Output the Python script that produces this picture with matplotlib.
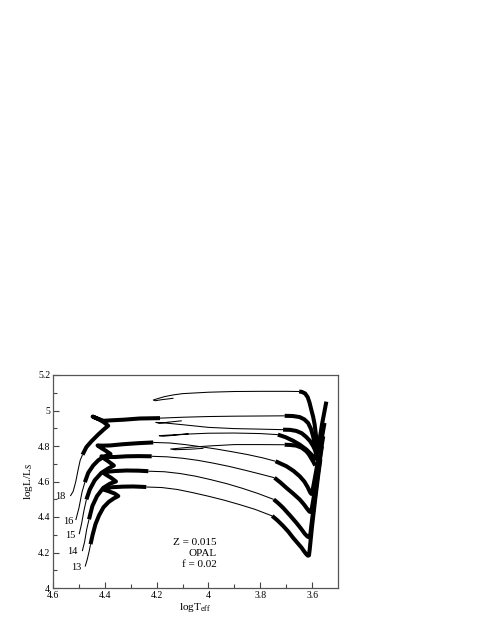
import matplotlib
matplotlib.use('Agg')
import matplotlib.pyplot as plt

# ---------------- data (logTeff, logL) ----------------
mass_labels = ['13', '14', '15', '16', '18']
label_T = [4.509, 4.526, 4.532, 4.541, 4.573]
label_L = [4.117, 4.205, 4.295, 4.374, 4.518]

# 13 Msun
T13_pre = [4.476, 4.468, 4.460, 4.455]
L13_pre = [4.121, 4.160, 4.210, 4.247]
T13_ms = [4.455, 4.447, 4.436, 4.422, 4.405, 4.385, 4.365, 4.348, 4.362, 4.385, 4.406, 4.396, 4.37, 4.33, 4.29, 4.24]
L13_ms = [4.247, 4.30, 4.36, 4.41, 4.455, 4.485, 4.505, 4.518, 4.532, 4.545, 4.555, 4.564, 4.568, 4.571, 4.572, 4.569]
T13_hg = [4.24, 4.18, 4.12, 4.06, 4.0, 3.94, 3.88, 3.82, 3.754]
L13_hg = [4.569, 4.566, 4.555, 4.537, 4.517, 4.495, 4.47, 4.443, 4.406]
T13_rg = [3.754, 3.733, 3.712, 3.692, 3.674, 3.657, 3.641, 3.630, 3.622, 3.616, 3.612, 3.609, 3.600, 3.588, 3.576, 3.568]
L13_rg = [4.406, 4.38, 4.35, 4.318, 4.284, 4.255, 4.228, 4.205, 4.19, 4.182, 4.184, 4.22, 4.35, 4.50, 4.64, 4.725]

# 14 Msun
T14_pre = [4.487, 4.478, 4.470, 4.461]
L14_pre = [4.208, 4.26, 4.33, 4.387]
T14_ms = [4.461, 4.448, 4.43, 4.406, 4.38, 4.357, 4.375, 4.395, 4.406, 4.39, 4.36, 4.316, 4.27, 4.232]
L14_ms = [4.387, 4.462, 4.518, 4.564, 4.588, 4.60, 4.62, 4.638, 4.649, 4.655, 4.659, 4.662, 4.661, 4.658]
T14_hg = [4.232, 4.17, 4.11, 4.05, 3.99, 3.93, 3.87, 3.81, 3.748]
L14_hg = [4.658, 4.655, 4.645, 4.63, 4.61, 4.588, 4.562, 4.533, 4.499]
T14_rg = [3.748, 3.730, 3.712, 3.686, 3.661, 3.643, 3.628, 3.618, 3.611, 3.607, 3.603, 3.592, 3.578, 3.562]
L14_rg = [4.499, 4.477, 4.452, 4.41, 4.368, 4.335, 4.305, 4.29, 4.285, 4.30, 4.35, 4.48, 4.64, 4.80]

# 15 Msun
T15_pre = [4.499, 4.49, 4.48, 4.471]
L15_pre = [4.303, 4.36, 4.44, 4.499]
T15_ms = [4.471, 4.458, 4.439, 4.413, 4.385, 4.365, 4.385, 4.405, 4.413, 4.395, 4.36, 4.316, 4.27, 4.219]
L15_ms = [4.499, 4.555, 4.607, 4.649, 4.675, 4.69, 4.712, 4.732, 4.742, 4.738, 4.738, 4.742, 4.743, 4.742]
T15_hg = [4.219, 4.16, 4.10, 4.04, 3.98, 3.92, 3.86, 3.80, 3.745]
L15_hg = [4.742, 4.739, 4.731, 4.719, 4.703, 4.685, 4.664, 4.642, 4.621]
T15_rg = [3.745, 3.722, 3.699, 3.673, 3.648, 3.632, 3.619, 3.610, 3.605, 3.601, 3.595, 3.586, 3.572, 3.557]
L15_rg = [4.621, 4.594, 4.564, 4.532, 4.499, 4.472, 4.446, 4.43, 4.428, 4.45, 4.50, 4.58, 4.72, 4.855]

# 16 Msun
T16_pre = [4.512, 4.50, 4.488, 4.477]
L16_pre = [4.383, 4.45, 4.54, 4.596]
T16_ms = [4.477, 4.464, 4.445, 4.425, 4.40, 4.378, 4.395, 4.415, 4.428, 4.41, 4.38, 4.33, 4.27, 4.213]
L16_ms = [4.596, 4.649, 4.69, 4.72, 4.742, 4.755, 4.772, 4.79, 4.803, 4.802, 4.803, 4.81, 4.816, 4.82]
T16_hg = [4.213, 4.15, 4.09, 4.03, 3.97, 3.91, 3.85, 3.79, 3.741]
L16_hg = [4.82, 4.817, 4.808, 4.796, 4.783, 4.768, 4.752, 4.733, 4.714]
T16_rg = [3.741, 3.72, 3.699, 3.672, 3.648, 3.63, 3.617, 3.608, 3.603, 3.599, 3.593, 3.583, 3.568, 3.552]
L16_rg = [4.714, 4.70, 4.686, 4.66, 4.63, 4.60, 4.568, 4.54, 4.53, 4.545, 4.59, 4.67, 4.80, 4.93]

# 18 Msun
T18_pre = [4.533, 4.522, 4.512, 4.503, 4.495, 4.486]
L18_pre = [4.518, 4.545, 4.60, 4.667, 4.72, 4.751]
T18_ms = [4.486, 4.471, 4.452, 4.426, 4.405, 4.387, 4.405, 4.425, 4.447, 4.43, 4.405, 4.37, 4.329, 4.265, 4.187]
L18_ms = [4.751, 4.794, 4.826, 4.864, 4.892, 4.914, 4.935, 4.952, 4.966, 4.955, 4.942, 4.945, 4.948, 4.955, 4.957]
T18_hg = [4.187, 4.10, 4.0, 3.9, 3.8, 3.706]
L18_hg = [4.957, 4.962, 4.966, 4.968, 4.969, 4.97]
T18_rg = [3.706, 3.675, 3.648, 3.630, 3.615, 3.604, 3.596, 3.590, 3.586, 3.584, 3.575, 3.562, 3.545]
L18_rg = [4.97, 4.969, 4.963, 4.95, 4.929, 4.895, 4.854, 4.81, 4.77, 4.73, 4.80, 4.92, 5.05]

# blue-loop branches (thick part near the red side, thin part towards the loop)
TA_thick = [3.580, 3.585, 3.590, 3.596, 3.603, 3.610, 3.617, 3.627, 3.640, 3.650]
LA_thick = [4.80, 4.86, 4.92, 4.965, 5.004, 5.045, 5.075, 5.096, 5.105, 5.107]
TA_thin = [3.650, 3.70, 3.80, 3.90, 4.0, 4.10, 4.135, 4.17, 4.20, 4.213, 4.205, 4.18, 4.135]
LA_thin = [5.107, 5.108, 5.108, 5.107, 5.103, 5.095, 5.088, 5.078, 5.065, 5.059, 5.055, 5.061, 5.069]

TB_thick = [3.582, 3.588, 3.596, 3.608, 3.622, 3.640, 3.661, 3.685, 3.712]
LB_thick = [4.75, 4.775, 4.80, 4.828, 4.85, 4.872, 4.885, 4.891, 4.892]
TB_thin = [3.712, 3.80, 3.90, 4.0, 4.10, 4.17, 4.203, 4.19, 4.15, 4.103]
LB_thin = [4.892, 4.895, 4.898, 4.905, 4.92, 4.93, 4.933, 4.928, 4.935, 4.942]

TC_thick = [3.585, 3.600, 3.622, 3.648, 3.674, 3.703, 3.732]
LC_thick = [4.72, 4.748, 4.78, 4.808, 4.83, 4.85, 4.864]
TC_thin = [3.732, 3.80, 3.90, 4.0, 4.1, 4.17, 4.19, 4.175, 4.12, 4.077]
LC_thin = [4.864, 4.87, 4.873, 4.872, 4.866, 4.86, 4.858, 4.855, 4.862, 4.869]

TD_thick = [3.588, 3.595, 3.603, 3.612, 3.622, 3.640, 3.661, 3.685, 3.706]
LD_thick = [4.69, 4.71, 4.73, 4.752, 4.77, 4.79, 4.802, 4.806, 4.807]
TD_thin = [3.706, 3.80, 3.90, 4.0, 4.08, 4.13, 4.146, 4.13, 4.07, 4.019]
LD_thin = [4.807, 4.808, 4.808, 4.80, 4.792, 4.785, 4.783, 4.779, 4.782, 4.787]

info_lines = ['Z = 0.015', 'OPAL', 'f = 0.02']
xticks = [4.6, 4.4, 4.2, 4.0, 3.8, 3.6]
xticklabels = ['4.6', '4.4', '4.2', '4', '3.8', '3.6']
yticks = [4.0, 4.2, 4.4, 4.6, 4.8, 5.0, 5.2]
yticklabels = ['4', '4.2', '4.4', '4.6', '4.8', '5', '5.2']

# ---------------- drawing ----------------
plt.rcParams['font.family'] = ['Liberation Serif', 'DejaVu Serif']
plt.rcParams['mathtext.fontset'] = 'stix'

fig = plt.figure(figsize=(4.8, 6.21), dpi=100)
ax = fig.add_axes([53 / 480, 1 - 588 / 621, 285 / 480, 213 / 621])

THIN = 0.75
THICK = 2.9


def seg(T, L, lw):
    ax.plot(T, L, color='black', lw=lw, solid_capstyle='butt',
            solid_joinstyle='round', zorder=3)


tracks = [
    (T13_pre, L13_pre, T13_ms, L13_ms, T13_hg, L13_hg, T13_rg, L13_rg),
    (T14_pre, L14_pre, T14_ms, L14_ms, T14_hg, L14_hg, T14_rg, L14_rg),
    (T15_pre, L15_pre, T15_ms, L15_ms, T15_hg, L15_hg, T15_rg, L15_rg),
    (T16_pre, L16_pre, T16_ms, L16_ms, T16_hg, L16_hg, T16_rg, L16_rg),
    (T18_pre, L18_pre, T18_ms, L18_ms, T18_hg, L18_hg, T18_rg, L18_rg),
]
for (tp, lp, tm, lm, th, lh, tr, lr) in tracks:
    seg(tp, lp, THIN)
    seg(tm, lm, THICK)
    seg(th, lh, THIN)
    seg(tr, lr, THICK)

for (tk, lk, tn, ln) in [(TA_thick, LA_thick, TA_thin, LA_thin),
                         (TB_thick, LB_thick, TB_thin, LB_thin),
                         (TC_thick, LC_thick, TC_thin, LC_thin),
                         (TD_thick, LD_thick, TD_thin, LD_thin)]:
    seg(tk, lk, THICK)
    seg(tn, ln, THIN)

for lab, t, l in zip(mass_labels, label_T, label_L):
    ax.text(t, l, lab, fontsize=7.5, ha='center', va='center')

for i, s in enumerate(info_lines):
    ax.text(3.969, 4.259 - 0.064 * i, s, fontsize=8, ha='right', va='center')

ax.set_xlim(4.6, 3.5)
ax.set_ylim(4.0, 5.2)
ax.set_xticks(xticks)
ax.set_xticklabels(xticklabels)
ax.set_xticks([4.5, 4.3, 4.1, 3.9, 3.7], minor=True)
ax.set_yticks(yticks)
ax.set_yticklabels(yticklabels)
ax.set_yticks([4.1, 4.3, 4.5, 4.7, 4.9, 5.1], minor=True)
ax.tick_params(which='both', direction='in', labelsize=7, pad=2,
               top=False, right=False, color='#444444', width=0.8)
ax.tick_params(which='major', length=4)
ax.tick_params(which='minor', length=3)
for sp in ax.spines.values():
    sp.set_color('#555555')
    sp.set_linewidth(0.9)

ax.set_xlabel(r'logT$_{\rm eff}$', fontsize=8, labelpad=1)
ax.set_ylabel(r'logL/L$_{\rm S}$', fontsize=8, labelpad=2)

fig.savefig('out.png', dpi=100)
